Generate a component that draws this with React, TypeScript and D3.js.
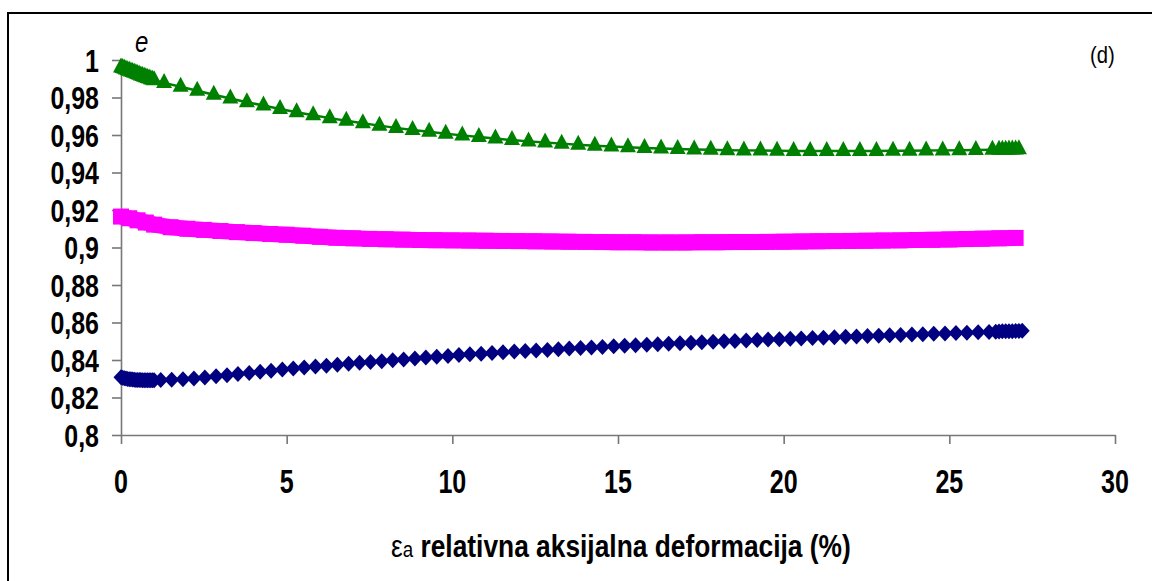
import React, { useEffect, useRef } from 'react';
import * as d3 from 'd3';

const xTicks = [0, 5, 10, 15, 20, 25, 30];
const yTicks = [0.8, 0.82, 0.84, 0.86, 0.88, 0.9, 0.92, 0.94, 0.96, 0.98, 1];

// green triangles (x = axial strain %, e = void ratio)
const greenSeries: [number, number][] = [
    [0, 0.996], [0.05, 0.9957], [0.1, 0.9953], [0.15, 0.995], [0.2, 0.9946], [0.25, 0.9943],
    [0.3, 0.9939], [0.35, 0.9936], [0.4, 0.9932], [0.45, 0.9929], [0.5, 0.9925], [0.55, 0.9922],
    [0.6, 0.9918], [0.65, 0.9915], [0.7, 0.9911], [0.75, 0.9908], [0.8, 0.9904], [0.85, 0.9901],
    [0.9, 0.9898], [0.95, 0.9895], [1.0, 0.9892],
    [1.3, 0.9878], [1.8, 0.9857], [2.3, 0.9836], [2.8, 0.9815], [3.3, 0.9795], [3.8, 0.9775],
    [4.3, 0.9757], [4.8, 0.9739], [5.3, 0.9721], [5.8, 0.9705], [6.3, 0.969], [6.8, 0.9676],
    [7.3, 0.9663], [7.8, 0.965], [8.3, 0.9638], [8.8, 0.9627], [9.3, 0.9617], [9.8, 0.9607],
    [10.3, 0.9598], [10.8, 0.9589], [11.3, 0.9581], [11.8, 0.9573], [12.3, 0.9566], [12.8, 0.956],
    [13.3, 0.9554], [13.8, 0.9548], [14.3, 0.9543], [14.8, 0.9539], [15.3, 0.9535], [15.8, 0.9531],
    [16.3, 0.9528], [16.8, 0.9525], [17.3, 0.9523], [17.8, 0.9521], [18.3, 0.9519], [18.8, 0.9518],
    [19.3, 0.9517], [19.8, 0.9516], [20.3, 0.9515], [20.8, 0.9515], [21.3, 0.9515], [21.8, 0.9515],
    [22.3, 0.9515], [22.8, 0.9515], [23.3, 0.9516], [23.8, 0.9516], [24.3, 0.9517], [24.8, 0.9518],
    [25.3, 0.9519], [25.8, 0.952], [26.3, 0.9521], [26.5, 0.9521], [26.6, 0.9522], [26.7, 0.9522],
    [26.8, 0.9523], [26.9, 0.9523], [27.0, 0.9523], [27.1, 0.9524],
];

// magenta squares
const pinkSeries: [number, number][] = [
    [0, 0.9165], [0.25, 0.9156], [0.5, 0.9145], [0.75, 0.9133], [1, 0.9122], [1.5, 0.9108],
    [2, 0.91], [2.5, 0.9094], [3, 0.9088], [3.5, 0.9082], [4, 0.9077], [4.5, 0.9072],
    [5, 0.9068], [5.5, 0.9063], [6, 0.9057], [6.5, 0.9052], [7, 0.9049], [7.5, 0.9046],
    [8, 0.9044], [8.5, 0.9042], [9, 0.904], [9.5, 0.9039], [10, 0.9038], [10.5, 0.9037],
    [11, 0.9036], [11.5, 0.9035], [12, 0.9034], [12.5, 0.9033], [13, 0.9032], [13.5, 0.9031],
    [14, 0.903], [14.5, 0.9029], [15, 0.9028], [15.5, 0.9028], [16, 0.9027], [16.5, 0.9027],
    [17, 0.9027], [17.5, 0.9028], [18, 0.9028], [18.5, 0.9029], [19, 0.9029], [19.5, 0.903],
    [20, 0.9031], [20.5, 0.9032], [21, 0.9033], [21.5, 0.9034], [22, 0.9035], [22.5, 0.9036],
    [23, 0.9037], [23.5, 0.9038], [24, 0.904], [24.5, 0.9041], [25, 0.9043], [25.5, 0.9045],
    [26, 0.9047], [26.5, 0.9049], [27, 0.9051],
];

// navy diamonds
const blueSeries: [number, number][] = [
    [0, 0.8308], [0.05, 0.8305], [0.1, 0.8303], [0.15, 0.8301], [0.2, 0.8299], [0.25, 0.8298],
    [0.3, 0.8297], [0.35, 0.8296], [0.4, 0.8295], [0.45, 0.8294], [0.5, 0.8294], [0.55, 0.8293],
    [0.6, 0.8293], [0.65, 0.8292], [0.7, 0.8292], [0.75, 0.8292], [0.8, 0.8292], [0.85, 0.8292],
    [0.9, 0.8292], [0.95, 0.8292], [1.0, 0.8292],
    [1.2, 0.8293], [1.53, 0.8295], [1.87, 0.8298], [2.2, 0.8302], [2.53, 0.8307], [2.87, 0.8313],
    [3.2, 0.8319], [3.53, 0.8325], [3.87, 0.8331], [4.2, 0.8337], [4.53, 0.8343], [4.87, 0.8349],
    [5.2, 0.8355], [5.53, 0.836], [5.87, 0.8365], [6.2, 0.837], [6.53, 0.8375], [6.87, 0.838],
    [7.2, 0.8385], [7.53, 0.8389], [7.87, 0.8394], [8.2, 0.8399], [8.53, 0.8403], [8.87, 0.8408],
    [9.2, 0.8413], [9.53, 0.8418], [9.87, 0.8422], [10.2, 0.8427], [10.53, 0.8431], [10.87, 0.8434],
    [11.2, 0.8438], [11.53, 0.8441], [11.87, 0.8445], [12.2, 0.8448], [12.53, 0.8451], [12.87, 0.8454],
    [13.2, 0.8458], [13.53, 0.8461], [13.87, 0.8464], [14.2, 0.8467], [14.53, 0.847], [14.87, 0.8473],
    [15.2, 0.8476], [15.53, 0.8479], [15.87, 0.8482], [16.2, 0.8484], [16.53, 0.8487], [16.87, 0.849],
    [17.2, 0.8492], [17.53, 0.8495], [17.87, 0.8497], [18.2, 0.85], [18.53, 0.8502], [18.87, 0.8504],
    [19.2, 0.8507], [19.53, 0.8509], [19.87, 0.8511], [20.2, 0.8513], [20.53, 0.8515], [20.87, 0.8517],
    [21.2, 0.8519], [21.53, 0.8521], [21.87, 0.8524], [22.2, 0.8526], [22.53, 0.8528], [22.87, 0.853],
    [23.2, 0.8532], [23.53, 0.8534], [23.87, 0.8536], [24.2, 0.8538], [24.53, 0.854], [24.87, 0.8542],
    [25.2, 0.8544], [25.53, 0.8546], [25.87, 0.8548], [26.2, 0.855], [26.4, 0.8551], [26.5, 0.8552],
    [26.6, 0.8553], [26.7, 0.8553], [26.8, 0.8554], [26.9, 0.8554], [27.0, 0.8555], [27.1, 0.8555],
    [27.2, 0.8556],
];

const FONT = "'Liberation Sans', Arial, sans-serif";

export default function App() {
    const svgRef = useRef<SVGSVGElement>(null);
    const width = 1152,
        height = 581;
    const plot = { left: 121, right: 1115, top: 60, bottom: 435 };

    useEffect(() => {
        const svg = d3.select(svgRef.current);
        svg.selectAll('*').remove();

        const x = d3.scaleLinear().domain([0, 30]).range([plot.left, plot.right]);
        const y = d3.scaleLinear().domain([0.8, 1]).range([plot.bottom, plot.top]);

        // outer frame (only top + left edges show in the crop)
        svg.append('path')
            .attr('d', `M8,${height + 10} V13 H${width + 10}`)
            .attr('fill', 'none')
            .attr('stroke', '#000')
            .attr('stroke-width', 2);

        // axes
        const yAxis = svg
            .append('g')
            .attr('transform', `translate(${plot.left},0)`)
            .call(d3.axisLeft(y).tickValues(yTicks).tickSize(9).tickSizeOuter(0).tickFormat(() => ''));
        const xAxis = svg
            .append('g')
            .attr('transform', `translate(0,${plot.bottom})`)
            .call(d3.axisBottom(x).tickValues(xTicks).tickSize(9).tickSizeOuter(0).tickFormat(() => ''));
        [yAxis, xAxis].forEach((a) => {
            a.selectAll('path,line').attr('stroke', '#777').attr('stroke-width', 1.6);
        });

        // tick labels (narrow bold face)
        svg.append('g')
            .selectAll('g')
            .data(yTicks)
            .join('g')
            .attr('transform', (d) => `translate(99,${y(d) + 11.5}) scale(0.78,1)`)
            .append('text')
            .attr('text-anchor', 'end')
            .attr('font-family', FONT)
            .attr('font-weight', 'bold')
            .attr('font-size', 32)
            .text((d) => String(+d.toFixed(2)).replace('.', ','));

        svg.append('g')
            .selectAll('g')
            .data(xTicks)
            .join('g')
            .attr('transform', (d) => `translate(${x(d)},493) scale(0.76,1)`)
            .append('text')
            .attr('text-anchor', 'middle')
            .attr('font-family', FONT)
            .attr('font-weight', 'bold')
            .attr('font-size', 33)
            .text((d) => d);

        // series
        const line = d3
            .line<[number, number]>()
            .x((d) => x(d[0]))
            .y((d) => y(d[1]));

        // magenta
        svg.append('path')
            .datum(pinkSeries)
            .attr('d', line)
            .attr('fill', 'none')
            .attr('stroke', '#ff00ff')
            .attr('stroke-width', 16);
        svg.append('g')
            .selectAll('rect')
            .data(pinkSeries)
            .join('rect')
            .attr('x', (d) => x(d[0]) - 8)
            .attr('y', (d) => y(d[1]) - 8)
            .attr('width', 16)
            .attr('height', 16)
            .attr('fill', '#ff00ff');

        // green
        svg.append('path')
            .datum(greenSeries)
            .attr('d', line)
            .attr('fill', 'none')
            .attr('stroke', '#008000')
            .attr('stroke-width', 2.5);
        svg.append('g')
            .selectAll('path')
            .data(greenSeries)
            .join('path')
            .attr('transform', (d) => `translate(${x(d[0])},${y(d[1])})`)
            .attr('d', 'M0,-10 L8,5 L-8,5 Z')
            .attr('fill', '#008000');

        // navy
        svg.append('path')
            .datum(blueSeries)
            .attr('d', line)
            .attr('fill', 'none')
            .attr('stroke', '#000080')
            .attr('stroke-width', 2.5);
        svg.append('g')
            .selectAll('path')
            .data(blueSeries)
            .join('path')
            .attr('transform', (d) => `translate(${x(d[0])},${y(d[1])})`)
            .attr('d', 'M0,-8 L7.5,0 L0,8 L-7.5,0 Z')
            .attr('fill', '#000080');

        // y label "e"
        svg.append('g')
            .attr('transform', 'translate(135,52) scale(0.8,1)')
            .append('text')
            .attr('font-family', FONT)
            .attr('font-style', 'italic')
            .attr('font-size', 30)
            .text('e');

        // panel tag
        svg.append('g')
            .attr('transform', 'translate(1090,63) scale(0.88,1)')
            .append('text')
            .attr('font-family', FONT)
            .attr('font-size', 23)
            .text('(d)');

        // x axis title
        const title = svg
            .append('g')
            .attr('transform', 'translate(391,557) scale(0.85,1)')
            .append('text')
            .attr('font-family', FONT);
        title.append('tspan').attr('font-size', 31).text('ε');
        title.append('tspan').attr('font-size', 22).text('a');
        title.append('tspan')
            .attr('font-size', 31)
            .attr('font-weight', 'bold')
            .text(' relativna aksijalna deformacija (%)');
        //eslint-disable-next-line
    }, []);

    return (
        <div style={{ position: 'absolute', left: 0, top: 0, background: '#fff' }}>
            <svg ref={svgRef} width={width} height={height} style={{ display: 'block' }} />
        </div>
    );
}
